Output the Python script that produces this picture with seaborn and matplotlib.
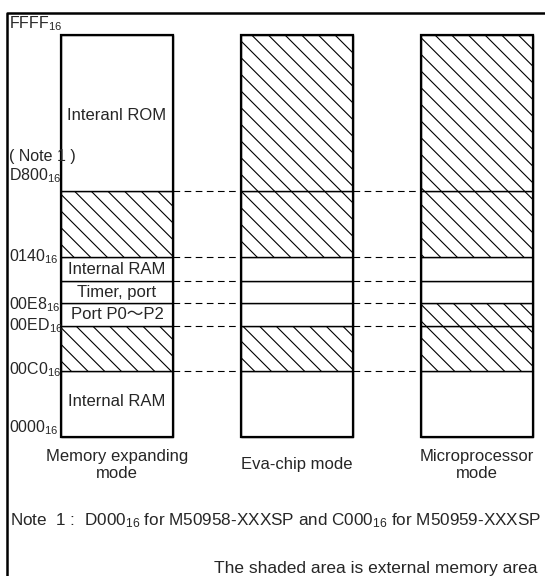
import matplotlib
matplotlib.use("Agg")
import matplotlib.pyplot as plt
import numpy as np
import seaborn as sns

# memory map data (segments listed bottom -> top)
modes = ['Memory expanding\nmode', 'Eva-chip mode', 'Microprocessor\nmode']
segment_labels = ['Internal RAM', '', 'Port P0～P2', 'Timer, port', 'Internal RAM', '', 'Interanl ROM']
shaded_mem_expanding = [0, 1, 0, 0, 0, 1, 0]
shaded_eva_chip = [0, 1, 0, 0, 0, 1, 1]
shaded_microprocessor = [0, 1, 1, 0, 0, 1, 1]
address_labels = ['0000', '00C0', '00ED', '00E8', '0140', 'D800', 'FFFF']
note_text = 'Note  1 :  D000$_{16}$ for M50958-XXXSP and C000$_{16}$ for M50959-XXXSP'
footer_text = 'The shaded area is external memory area'

# layout (display heights of segments, pixel based)
seg_heights = [66, 45, 23, 22, 24, 66, 156]
bar_width = 0.622
x_step = 180.0
x0_px, base_px = 117.0, 437.0
W, H = 545, 576

sns.set_theme(style='white')
plt.rcParams['font.family'] = ['Liberation Sans', 'Noto Sans CJK JP', 'DejaVu Sans']
plt.rcParams['mathtext.fontset'] = 'custom'
plt.rcParams['mathtext.rm'] = 'Liberation Sans'
plt.rcParams['mathtext.it'] = 'Liberation Sans:italic'
plt.rcParams['mathtext.bf'] = 'Liberation Sans:bold'
plt.rcParams['hatch.linewidth'] = 0.8


def px(x):
    return (x - x0_px) / x_step


def py(y):
    return base_px - y


fig = plt.figure(figsize=(W / 100, H / 100), dpi=100)
ax = fig.add_axes([0, 0, 1, 1])
ax.set_xlim(px(0), px(W))
ax.set_ylim(py(H), py(0))
ax.axis('off')

shading = [shaded_mem_expanding, shaded_eva_chip, shaded_microprocessor]
bounds = np.cumsum(seg_heights)
bottoms = np.concatenate([[0], bounds[:-1]])

for i, flags in enumerate(shading):
    for j, h in enumerate(seg_heights):
        ax.bar(i, h, bottom=bottoms[j], width=bar_width, color='white',
               edgecolor='black', linewidth=1.0,
               hatch='\\\\' if flags[j] else None)
    # thick outline
    ax.bar(i, bounds[-1], width=bar_width, fill=False, edgecolor='black', linewidth=1.6)
    ax.text(i, py(465), modes[i], ha='center', va='center', fontsize=12,
            linespacing=1.15)

# segment labels in the first box
for j, lab in enumerate(segment_labels):
    if lab:
        yc = bottoms[j] + seg_heights[j] / 2
        if j == 0:
            yc += 3
        if j == len(segment_labels) - 1:
            yc = py(115)
        ax.text(0, yc, lab, ha='center', va='center', fontsize=12)

# dashed connectors between boxes
for b in bounds[:-1]:
    for i in range(len(modes) - 1):
        ax.hlines(b, i + bar_width / 2, i + 1 - bar_width / 2, colors='black',
                  linewidth=0.8, linestyles=(0, (6, 4)))

# address labels (baseline pixel positions)
addr_baselines = [432, 374, 330, 309, 261, 180, 28]
for lab, yb in zip(address_labels, addr_baselines):
    ax.text(px(9), py(yb), lab + '$_{16}$', ha='left', va='baseline', fontsize=11.5)
ax.text(px(9), py(161), '( Note 1 )', ha='left', va='baseline', fontsize=11.5)

# outer frame
ax.plot([px(7), px(7), px(W)], [py(H), py(13), py(13)], color='black', linewidth=1.8,
        solid_capstyle='butt')

ax.text(px(10), py(521), note_text, ha='left', va='center', fontsize=12.3)
ax.text(px(537), py(568), footer_text, ha='right', va='center', fontsize=12.5)

plt.savefig('out.png', dpi=100)
plt.close()
